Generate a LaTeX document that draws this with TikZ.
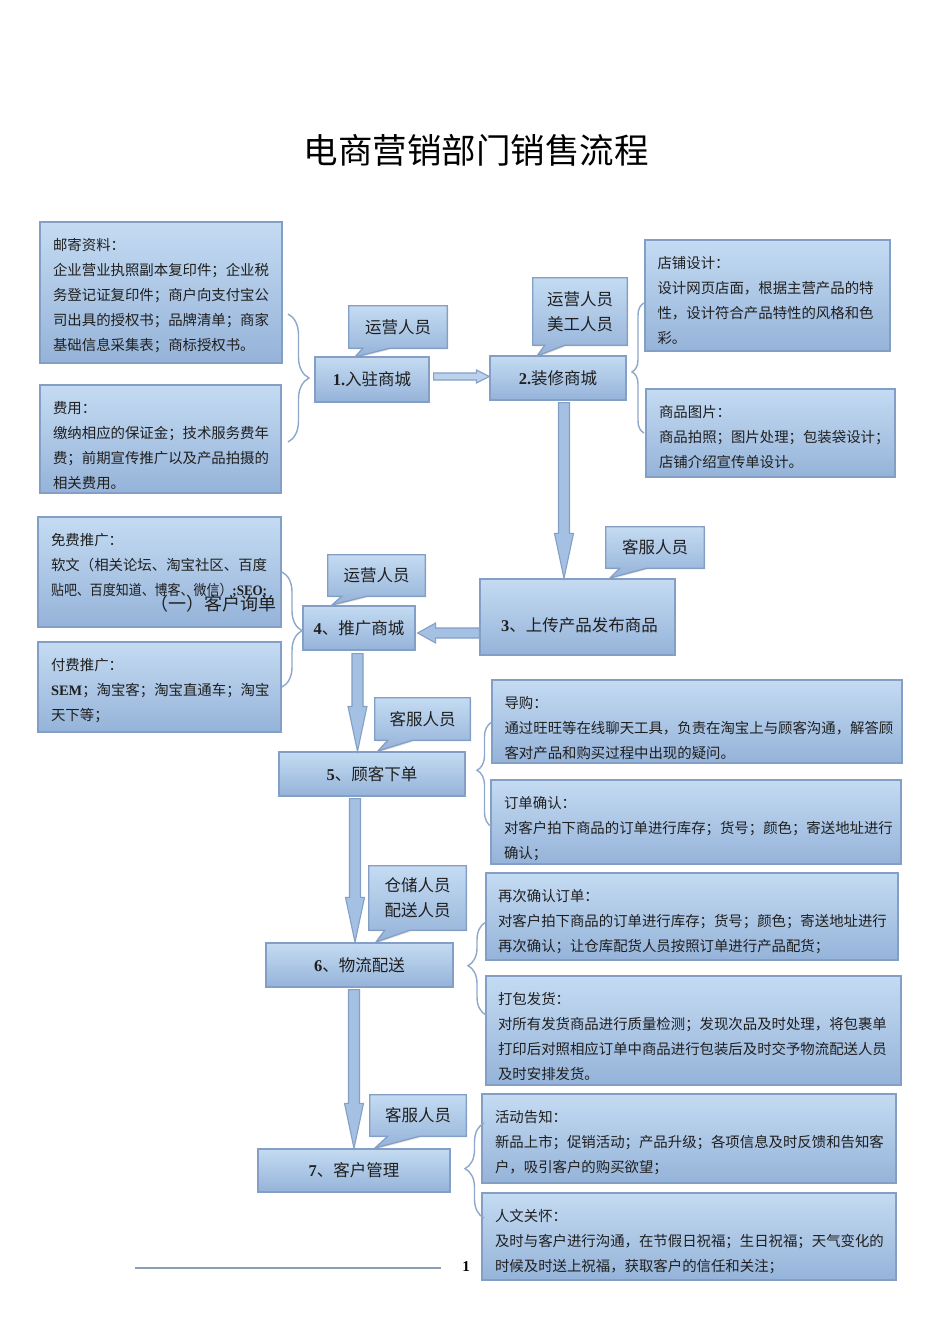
\documentclass[tikz,border=0pt]{standalone}
\usepackage{fontspec}
\setmainfont{Noto Sans CJK SC}
\newfontfamily\lat{Liberation Serif}
\usetikzlibrary{calc,decorations.pathreplacing,shadows}
\definecolor{boxtop}{HTML}{C4DBF2}
\definecolor{boxbot}{HTML}{95B3D9}
\definecolor{boxline}{HTML}{849FC6}
\definecolor{txt}{HTML}{1F1F1F}
\definecolor{bracec}{HTML}{8EA8CB}
\definecolor{arrfill}{HTML}{A4C0E3}
\definecolor{harrfill}{HTML}{BCD2EC}
\definecolor{footc}{HTML}{8C9DB6}
\newcommand{\rbox}[5]{\node[box, minimum width={#4-#2}, minimum height={#5-#3}] (#1) at ({(#2+#4)/2},{(#3+#5)/2}) {};}
\newcommand{\callout}[9]{%
  \node[inner sep=0, minimum width={#4-#2}, minimum height={#5-#3}] (#1) at ({(#2+#4)/2},{(#3+#5)/2}) {};
  \coordinate (#1p) at #8;
  \path[callbox] (#1.north west) -- (#1.north east) -- (#1.south east)
    -- ($(#1.south west)+(#7,0)$) -- (#1p) -- ($(#1.south west)+(#6,0)$) -- (#1.south west) -- cycle;
  \node[role] (#1t) at (#1.center) {#9};}
\newcommand{\varr}[2]{\path[arrsty] ($(#1)+(-5.5,0)$) -- ($(#1)+(5.5,0)$) -- ($(#2)+(5.5,-45)$) -- ($(#2)+(9.5,-45)$) -- (#2) -- ($(#2)+(-9.5,-45)$) -- ($(#2)+(-5.5,-45)$) -- cycle;}
\begin{document}
\begin{tikzpicture}[x=1pt,y=-1pt,
  box/.style={draw=boxline, line width=1.3pt, top color=boxtop, bottom color=boxbot, inner sep=0,
    drop shadow={shadow xshift=1.2pt, shadow yshift=-1.2pt, opacity=0.22}},
  callbox/.style={draw=boxline, line width=1.3pt, top color=boxtop, bottom color=boxbot,
    drop shadow={shadow xshift=1.2pt, shadow yshift=-1.2pt, opacity=0.22}},
  role/.style={inner sep=0, align=center, text=txt, font=\fontsize{16.5}{25}\selectfont},
  mainlbl/.style={inner sep=0, text=txt, font=\fontsize{16.5}{20}\selectfont},
  detail/.style={anchor=north west, inner sep=0, align=left, text=txt, font=\fontsize{14.4}{25}\selectfont},
  arrsty/.style={draw=boxline, line width=1.1pt, fill=arrfill},
  harr/.style={draw=boxline, line width=1.1pt, fill=harrfill},
  bracesty/.style={draw=bracec, line width=1.4pt, decorate},
]
\useasboundingbox (0,0) rectangle (950,1344);
\fill[white] (0,0) rectangle (950,1344);

\node[inner sep=0, text=black, font=\fontsize{34.5}{40}\selectfont] (title) at (476,150) {电商营销部门销售流程};

% detail boxes
\rbox{a1}{40}{222}{282}{363}
\rbox{a2}{40}{385}{281}{493}
\rbox{bb1}{645}{240}{890}{351}
\rbox{bb2}{646}{389}{895}{477}
\rbox{c1}{38}{517}{281}{627}
\rbox{c2}{38}{642}{281}{732}
\rbox{d1}{492}{680}{902}{763}
\rbox{d2}{491}{780}{901}{864}
\rbox{e1}{486}{873}{898}{960}
\rbox{e2}{486}{976}{901}{1085}
\rbox{f1}{482}{1094}{896}{1183}
\rbox{f2}{482}{1193}{896}{1280}

\node[detail] (a1t) at ($(a1.north west)+(13.5,16.5)$) {邮寄资料：\\企业营业执照副本复印件；企业税\\务登记证复印件；商户向支付宝公\\司出具的授权书；品牌清单；商家\\基础信息采集表；商标授权书。};
\node[detail] (a2t) at ($(a2.north west)+(13.5,16.5)$) {费用：\\缴纳相应的保证金；技术服务费年\\费；前期宣传推广以及产品拍摄的\\相关费用。};
\node[detail] (bb1t) at ($(bb1.north west)+(13,16.5)$) {店铺设计：\\设计网页店面，根据主营产品的特\\性，设计符合产品特性的风格和色\\彩。};
\node[detail] (bb2t) at ($(bb2.north west)+(13.5,16.5)$) {商品图片：\\商品拍照；图片处理；包装袋设计；\\店铺介绍宣传单设计。};
\node[detail] (c1t) at ($(c1.north west)+(13.5,16.5)$) {免费推广：\\软文（相关论坛、淘宝社区、百度\\\scalebox{0.9}[1]{贴吧、百度知道、博客、微信）{\lat\bfseries ;SEO;}}};
\node[inner sep=0, text=txt, font=\fontsize{18}{20}\selectfont, anchor=east] (c1o) at (277,604) {（一）客户询单};
\node[detail] (c2t) at ($(c2.north west)+(13.5,16.5)$) {付费推广：\\{\lat\bfseries SEM}；淘宝客；淘宝直通车；淘宝\\天下等；};
\node[detail] (d1t) at ($(d1.north west)+(13,16.5)$) {导购：\\通过旺旺等在线聊天工具，负责在淘宝上与顾客沟通，解答顾\\客对产品和购买过程中出现的疑问。};
\node[detail] (d2t) at ($(d2.north west)+(13.5,16.5)$) {订单确认：\\对客户拍下商品的订单进行库存；货号；颜色；寄送地址进行\\确认；};
\node[detail] (e1t) at ($(e1.north west)+(12.5,17)$) {再次确认订单：\\对客户拍下商品的订单进行库存；货号；颜色；寄送地址进行\\再次确认；让仓库配货人员按照订单进行产品配货；};
\node[detail] (e2t) at ($(e2.north west)+(12.5,16.5)$) {打包发货：\\对所有发货商品进行质量检测；发现次品及时处理，将包裹单\\打印后对照相应订单中商品进行包装后及时交予物流配送人员\\及时安排发货。};
\node[detail] (f1t) at ($(f1.north west)+(13.5,16.5)$) {活动告知：\\新品上市；促销活动；产品升级；各项信息及时反馈和告知客\\户，吸引客户的购买欲望；};
\node[detail] (f2t) at ($(f2.north west)+(13.5,17)$) {人文关怀：\\及时与客户进行沟通，在节假日祝福；生日祝福；天气变化的\\时候及时送上祝福，获取客户的信任和关注；};

% main boxes
\rbox{b1}{315}{357}{429}{402}
\rbox{b2}{490}{356}{626}{400}
\rbox{b3}{480}{579}{675}{655}
\rbox{b4}{303}{606}{415}{650}
\rbox{b5}{279}{752}{465}{796}
\rbox{b6}{266}{943}{453}{987}
\rbox{b7}{258}{1149}{450}{1192}
\node[mainlbl] (b1t) at (b1.center) {{\lat\bfseries 1.}入驻商城};
\node[mainlbl] (b2t) at (b2.center) {{\lat\bfseries 2.}装修商城};
\node[mainlbl] (b3t) at ($(b3.center)+(2,8)$) {{\lat\bfseries 3}、上传产品发布商品};
\node[mainlbl] (b4t) at (b4.center) {{\lat\bfseries 4}、推广商城};
\node[mainlbl] (b5t) at (b5.center) {{\lat\bfseries 5}、顾客下单};
\node[mainlbl] (b6t) at (b6.center) {{\lat\bfseries 6}、物流配送};
\node[mainlbl] (b7t) at (b7.center) {{\lat\bfseries 7}、客户管理};

% callouts
\callout{r1}{349}{306}{447}{348}{14}{41}{(355,357)}{运营人员}
\callout{r2}{533}{278}{627}{345}{12}{32}{(537,356)}{运营人员\\美工人员}
\callout{r3}{606}{527}{704}{568}{14}{41}{(610,578)}{客服人员}
\callout{r4}{328}{555}{425}{596}{14}{39}{(332,605)}{运营人员}
\callout{r5}{375}{698}{470}{740}{13}{38}{(378,751)}{客服人员}
\callout{r6}{369}{866}{466}{930}{16}{41}{(376,942)}{仓储人员\\配送人员}
\callout{r7}{370}{1095}{466}{1136}{18}{50}{(375,1148)}{客服人员}

% arrows
\coordinate (h1s) at ($(b1.east)+(4,-3)$);
\coordinate (h1e) at (b2.west |- h1s);
\path[harr] ($(h1s)+(0,-3.5)$) -- ($(h1e)+(-13,-3.5)$) -- ($(h1e)+(-13,-6.5)$) -- (h1e)
  -- ($(h1e)+(-13,6.5)$) -- ($(h1e)+(-13,3.5)$) -- ($(h1s)+(0,3.5)$) -- cycle;
\coordinate (h2s) at ($(b3.west)+(0,16)$);
\coordinate (b4e) at ($(b4.east)+(2,0)$);
\coordinate (h2e) at (b4e |- h2s);
\path[arrsty] ($(h2s)+(0,-5)$) -- ($(h2e)+(18,-5)$) -- ($(h2e)+(18,-10)$) -- (h2e)
  -- ($(h2e)+(18,10)$) -- ($(h2e)+(18,5)$) -- ($(h2s)+(0,5)$) -- cycle;
\coordinate (v1s) at ($(b2.south)+(6,2)$);
\coordinate (v1e) at (v1s |- b3.north);
\varr{v1s}{v1e}
\coordinate (v2s) at ($(b4.south)+(-1.5,3)$);
\coordinate (v2e) at (v2s |- b5.north);
\varr{v2s}{v2e}
\coordinate (v3s) at ($(b5.south)+(-17,2)$);
\coordinate (v3e) at (v3s |- b6.north);
\varr{v3s}{v3e}
\coordinate (v4s) at ($(b6.south)+(-5.5,2)$);
\coordinate (v4e) at (v4s |- b7.north);
\varr{v4s}{v4e}

% braces
\draw[bracesty, decoration={brace, amplitude=21pt, aspect=0.5}] (288,314) -- (288,442);
\draw[bracesty, decoration={brace, amplitude=12pt, aspect=0.47}] (644,433) -- (644,303);
\draw[bracesty, decoration={brace, amplitude=20pt, aspect=0.51}] (282,572) -- (282,687);
\draw[bracesty, decoration={brace, amplitude=15pt, aspect=0.54}] (492,827) -- (492,722);
\draw[bracesty, decoration={brace, amplitude=18pt, aspect=0.53}] (486,1015) -- (486,922);
\draw[bracesty, decoration={brace, amplitude=19pt, aspect=0.52}] (484,1218) -- (484,1123);

% footer
\coordinate (fl1) at (135,1268);
\coordinate (fl2) at (441,1268);
\draw[footc, line width=1.4pt] (fl1) -- (fl2);
\node[inner sep=0, font=\lat\bfseries\fontsize{15}{18}\selectfont] (pg) at (466,1267) {1};
\end{tikzpicture}
\end{document}
